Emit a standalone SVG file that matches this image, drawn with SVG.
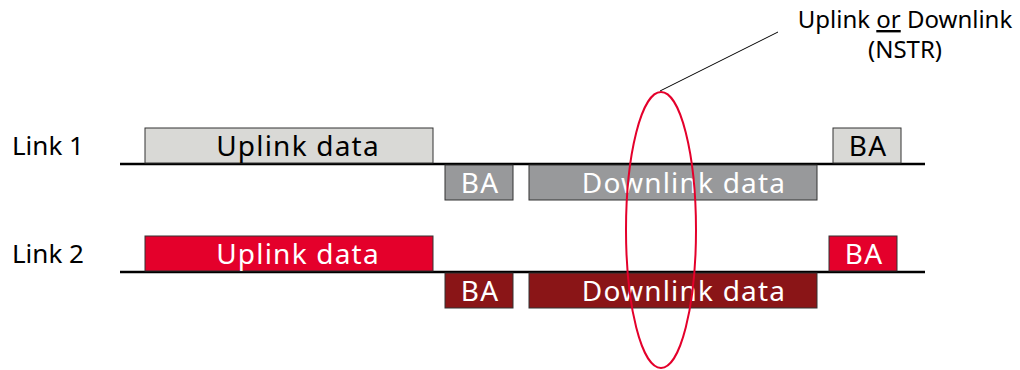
<svg xmlns="http://www.w3.org/2000/svg" width="1020" height="370" viewBox="0 0 1020 370">
<style>
text{font-family:"Noto Sans","Liberation Sans",sans-serif;}
.lbl{font-size:26px;fill:#000;}
.box{stroke:#333;stroke-width:1;}
.lg{fill:#D9D9D6;}
.gr{fill:#98999B;}
.rd{fill:#E4002B;}
.dr{fill:#8A1517;}
.t{font-size:28px;text-anchor:middle;letter-spacing:1.2px;}
.tb{fill:#000;}
.tw{fill:#fff;}
.base{stroke:#000;stroke-width:2.5;}
</style>
<g id="link1-label"><text class="lbl" x="12" y="155">Link 1</text></g>
<g id="link2-label"><text class="lbl" x="12" y="263">Link 2</text></g>
<g id="connectors">
<line class="base" x1="120" y1="164" x2="925" y2="164"/>
<line class="base" x1="120" y1="272" x2="925" y2="272"/>
<line x1="660" y1="91" x2="778" y2="32" stroke="#000" stroke-width="1"/>
</g>
<g id="l1-uplink"><rect class="box lg" x="145" y="128" width="288" height="35"/><text class="t tb" x="298" y="156">Uplink data</text></g>
<g id="l1-ba1"><rect class="box gr" x="445" y="165" width="68" height="35"/><text class="t tw" x="480" y="193">BA</text></g>
<g id="l1-downlink"><rect class="box gr" x="529" y="165" width="288" height="35"/><text class="t tw" x="684" y="193">Downlink data</text></g>
<g id="l1-ba2"><rect class="box lg" x="833" y="128" width="68" height="35"/><text class="t tb" x="868" y="156">BA</text></g>
<g id="l2-uplink"><rect class="box rd" x="145" y="236" width="288" height="35"/><text class="t tw" x="298" y="264">Uplink data</text></g>
<g id="l2-ba1"><rect class="box dr" x="445" y="273" width="68" height="35"/><text class="t tw" x="480" y="301">BA</text></g>
<g id="l2-downlink"><rect class="box dr" x="529" y="273" width="288" height="35"/><text class="t tw" x="684" y="301">Downlink data</text></g>
<g id="l2-ba2"><rect class="box rd" x="829" y="236" width="68" height="35"/><text class="t tw" x="864" y="264">BA</text></g>
<g id="nstr-ellipse"><ellipse cx="661" cy="230" rx="35" ry="138" fill="none" stroke="#E4002B" stroke-width="2"/></g>
<g id="nstr-label">
<text x="905" y="28" font-size="24" text-anchor="middle" fill="#000">Uplink <tspan text-decoration="underline">or</tspan> Downlink</text>
<text x="905" y="58" font-size="24" text-anchor="middle" fill="#000">(NSTR)</text>
</g>
</svg>
